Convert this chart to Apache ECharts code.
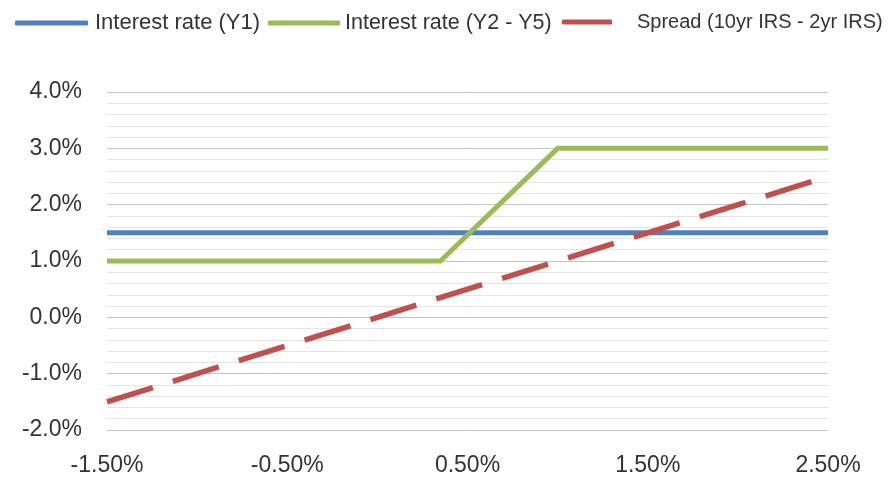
<!DOCTYPE html>
<html>
<head>
<meta charset="utf-8">
<script src="https://cdn.jsdelivr.net/npm/echarts@6/dist/echarts.min.js"></script>
<style>
  html, body { margin: 0; padding: 0; background: #fff; }
  #chart { width: 890px; height: 477px; }
</style>
</head>
<body>
<div id="chart"></div>
<script>
// Short-term rate (x, %) scenarios
const seriesNames = ['Interest rate (Y1)', 'Interest rate (Y2 - Y5)', 'Spread (10yr IRS - 2yr IRS)'];
const rateY1 = [[-1.5, 1.5], [2.5, 1.5]];
const rateY2Y5 = [[-1.5, 1.0], [0.35, 1.0], [1.0, 3.0], [2.5, 3.0]];
const spread = [[-1.5, -1.5], [2.5, 2.5]];
const xTicks = [-1.5, -0.5, 0.5, 1.5, 2.5];
const yTicks = [-2, -1, 0, 1, 2, 3, 4];

const colors = ['#4f81bd', '#9bbb59', '#c0504d'];
const font = 'Liberation Sans, Arial, sans-serif';

const chart = echarts.init(document.getElementById('chart'));

function legendFor(name, left, width, fontSize, padLeft) {
  return {
    left: left,
    top: 12,
    padding: 0,
    data: [name],
    icon: 'roundRect',
    itemWidth: width,
    itemHeight: 5,
    textStyle: {
      fontFamily: font, fontSize: fontSize, color: '#333',
      padding: [0, 0, 0, padLeft || 0]
    }
  };
}

chart.setOption({
  animation: false,
  backgroundColor: '#fff',
  legend: [
    legendFor(seriesNames[0], 15, 73, 22, 2),
    legendFor(seriesNames[1], 268, 72, 21.5, 0),
    legendFor(seriesNames[2], 562, 50, 20, 20)
  ],
  grid: { left: 107, right: 62, top: 92, bottom: 45 },
  xAxis: {
    type: 'value',
    min: xTicks[0],
    max: xTicks[xTicks.length - 1],
    interval: 1,
    axisLine: { show: false },
    axisTick: { show: false },
    splitLine: { show: false },
    axisLabel: {
      margin: 24,
      fontFamily: font,
      fontSize: 23,
      color: '#333',
      formatter: v => v.toFixed(2) + '%'
    }
  },
  yAxis: {
    type: 'value',
    min: yTicks[0],
    max: yTicks[yTicks.length - 1],
    interval: 1,
    axisLine: { show: false },
    axisTick: { show: false },
    minorTick: { show: false, splitNumber: 5 },
    splitLine: { show: true, lineStyle: { color: '#c4c4c4', width: 1 } },
    minorSplitLine: { show: true, lineStyle: { color: '#e4e4e4', width: 1 } },
    axisLabel: {
      margin: 25,
      fontFamily: font,
      fontSize: 23,
      color: '#333',
      formatter: v => v.toFixed(1) + '%'
    }
  },
  series: [
    {
      name: seriesNames[0], type: 'line', data: rateY1, showSymbol: false, symbol: 'none',
      itemStyle: { color: colors[0] },
      lineStyle: { color: colors[0], width: 5 }, z: 2
    },
    {
      name: seriesNames[1], type: 'line', data: rateY2Y5, showSymbol: false, symbol: 'none',
      itemStyle: { color: colors[1] },
      lineStyle: { color: colors[1], width: 5, join: 'round' }, z: 3
    },
    {
      name: seriesNames[2], type: 'line', data: spread, showSymbol: false, symbol: 'none',
      itemStyle: { color: colors[2] },
      lineStyle: { color: colors[2], width: 5.5, type: [48, 21], cap: 'butt' }, z: 4
    }
  ]
});
</script>
</body>
</html>
